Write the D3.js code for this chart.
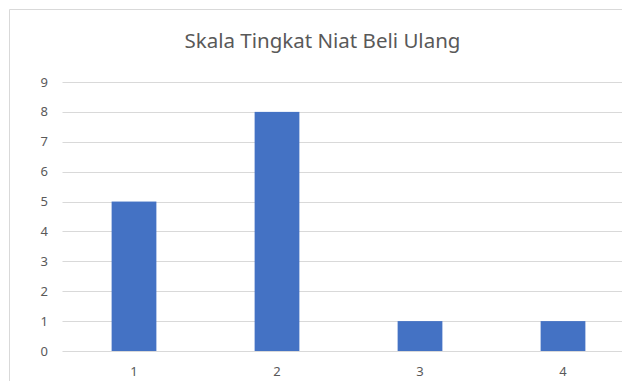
<!DOCTYPE html>
<html>
<head>
<meta charset="utf-8">
<script src="https://cdn.jsdelivr.net/npm/d3@7"></script>
<style>
  html, body { margin: 0; padding: 0; background: #fff; }
  svg { display: block; font-family: "Noto Sans", "Open Sans", sans-serif; }
</style>
</head>
<body>
<svg id="chart" width="622" height="381"></svg>
<script>
const title = "Skala Tingkat Niat Beli Ulang";
const categories = ["1", "2", "3", "4"];
const values = [5, 8, 1, 1];
const yTicks = [0, 1, 2, 3, 4, 5, 6, 7, 8, 9];

const width = 622, height = 381;
const margin = { top: 82, right: -12.5, bottom: 30, left: 62.5 };

const svg = d3.select("#chart");

// chart area border (cropped on right / bottom)
svg.append("path")
  .attr("d", `M9.5,${height} V9.5 H${width}`)
  .attr("fill", "none")
  .attr("stroke", "#d9d9d9")
  .attr("stroke-width", 1);

const x = d3.scaleBand()
  .domain(categories)
  .range([margin.left, width - margin.right])
  .paddingInner(0.687)
  .paddingOuter(0.3435);

const y = d3.scaleLinear()
  .domain([0, 9])
  .range([351, margin.top]);

// gridlines
svg.append("g")
  .selectAll("line")
  .data(yTicks)
  .join("line")
  .attr("x1", margin.left)
  .attr("x2", width)
  .attr("y1", d => Math.round(y(d)) + 0.5)
  .attr("y2", d => Math.round(y(d)) + 0.5)
  .attr("stroke", "#d9d9d9")
  .attr("stroke-width", 1);

// y tick labels
svg.append("g")
  .attr("font-size", 13)
  .attr("fill", "#595959")
  .attr("text-anchor", "end")
  .selectAll("text")
  .data(yTicks)
  .join("text")
  .attr("x", 48)
  .attr("y", d => y(d))
  .attr("dy", "0.35em")
  .text(d => d);

// bars
svg.append("g")
  .selectAll("rect")
  .data(values)
  .join("rect")
  .attr("fill", "#4472c4")
  .attr("x", (d, i) => x(categories[i]))
  .attr("y", d => y(d))
  .attr("width", x.bandwidth())
  .attr("height", d => y(0) - y(d));

// x labels
svg.append("g")
  .attr("font-size", 13)
  .attr("fill", "#595959")
  .attr("text-anchor", "middle")
  .selectAll("text")
  .data(categories)
  .join("text")
  .attr("x", d => x(d) + x.bandwidth() / 2)
  .attr("y", 376)
  .text(d => d);

// title
svg.append("text")
  .attr("x", 322.5)
  .attr("y", 48)
  .attr("text-anchor", "middle")
  .attr("font-size", 20.5)
  .attr("fill", "#595959")
  .text(title);
</script>
</body>
</html>
